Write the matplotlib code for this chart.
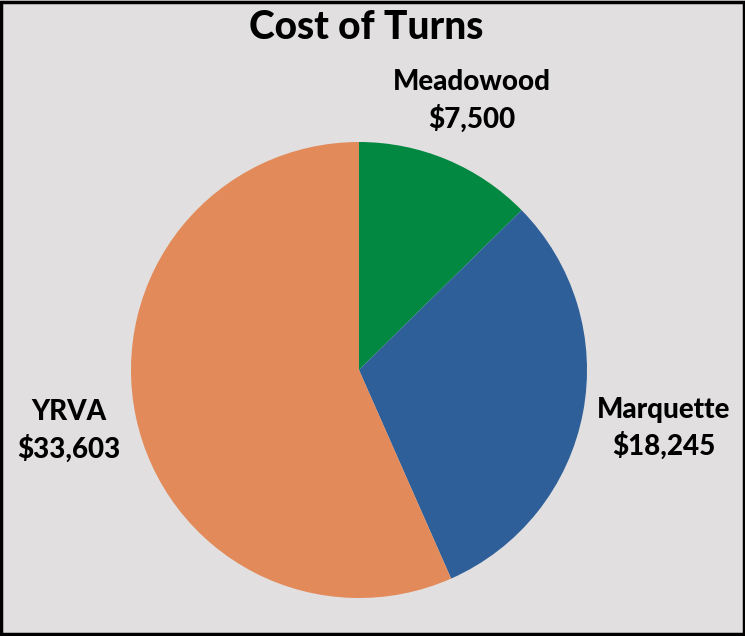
import matplotlib.pyplot as plt
from matplotlib.patches import Rectangle
import numpy as np

# data
names = ['Meadowood', 'Marquette', 'YRVA']
costs = [7500, 18245, 33603]
colors = ['#038842', '#2E5F99', '#E28A59']
label_dist = [1.28, 1.36, 1.30]

BG = '#E1DFDF'
plt.rcParams['font.family'] = ['Lato', 'DejaVu Sans']

fig = plt.figure(figsize=(7.45, 6.36), dpi=100)
fig.patch.set_facecolor(BG)
fig.patches.append(Rectangle((0.002, 0.003), 0.996, 0.994, transform=fig.transFigure,
                             fill=False, edgecolor='black', linewidth=2.5))

ax = fig.add_axes([(359 - 228) / 745, (636 - 598) / 636, 456 / 745, 456 / 636])
ax.set_facecolor(BG)
wedges, _ = ax.pie(costs, colors=colors, startangle=90, counterclock=False,
                   radius=1.0, wedgeprops=dict(linewidth=0))
ax.set_xlim(-1, 1)
ax.set_ylim(-1, 1)
ax.set_aspect('equal')

for w, name, val, d in zip(wedges, names, costs, label_dist):
    ang = np.deg2rad((w.theta1 + w.theta2) / 2)
    ax.text(d * np.cos(ang), d * np.sin(ang), '%s\n$%s' % (name, format(val, ',')),
            ha='center', va='center', fontsize=20, fontweight='black',
            linespacing=1.4, clip_on=False)

fig.text(0.492, 0.957, 'Cost of Turns', ha='center', va='center',
         fontsize=28, fontweight='black')

fig.savefig('out.png', dpi=100, facecolor=BG)
